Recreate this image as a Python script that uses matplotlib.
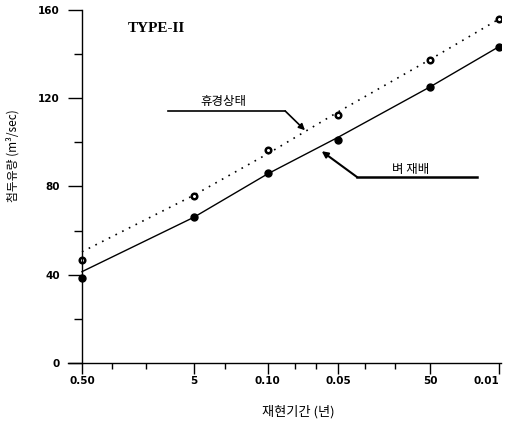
import numpy as np
import matplotlib
matplotlib.use("Agg")
import matplotlib.pyplot as plt

plt.rcParams['font.family'] = ['Noto Sans CJK KR', 'DejaVu Sans']

# return periods (years) and peak discharge (m3/sec)
return_period = [2, 5, 10, 20, 50, 100]
tick_labels = ['0.50', '5', '0.10', '0.05', '50', '0.01']

fallow_obs = [46.7, 75.7, 96.5, 112.4, 137.3, 155.9]     # 휴경상태
fallow_fit = [50.4, 76.0, 94.8, 113.9, 137.6, 155.9]
rice_obs = [38.5, 66.2, 86.2, 101.1, 125.2, 143.4]       # 벼 재배
rice_fit = [41.4, 66.0, 85.7, 102.4, 125.2, 143.4]

minor_periods = [2.5, 3.3, 6.7, 13, 16, 26, 35]


def gumbel(T):
    T = np.asarray(T, dtype=float)
    return -np.log(-np.log(1.0 - 1.0 / T))


u = gumbel(return_period)

fig = plt.figure(figsize=(5.09, 4.28), dpi=100)
ax = fig.add_axes([68 / 509, 65 / 428, 433 / 509, 353 / 428])

ax.plot(u, fallow_fit, color='k', lw=1.2, linestyle=(0, (1, 3.5)))
ax.plot(u, fallow_obs, 'o', ms=4, mfc='white', mec='k', mew=1.8, ls='none')
ax.plot(u, rice_fit, color='k', lw=1.0)
ax.plot(u, rice_obs, 'o', ms=5, color='k', ls='none')

ax.set_xlim(u[0] - 0.142, u[-1] + 0.02)
ax.set_ylim(0, 160)

for s in ['top', 'right']:
    ax.spines[s].set_visible(False)
ax.spines['left'].set_position(('data', u[0]))
ax.spines['left'].set_linewidth(1.0)
ax.spines['bottom'].set_linewidth(1.0)

ax.set_yticks([0, 40, 80, 120, 160])
ax.set_yticks([20, 60, 100, 140], minor=True)
ax.set_xticks(u)
ax.set_xticks(gumbel(minor_periods), minor=True)
ax.set_xticklabels(tick_labels)
ax.tick_params(axis='y', which='major', length=10, width=1, pad=6, labelsize=7.5)
ax.tick_params(axis='y', which='minor', length=6, width=1)
ax.tick_params(axis='x', which='major', length=8, width=1, pad=1.5, labelsize=7.5)
ax.tick_params(axis='x', which='minor', length=4, width=1)
for lab in ax.get_yticklabels() + ax.get_xticklabels():
    lab.set_family('DejaVu Sans')
    lab.set_fontweight('bold')
# keep the last label inside the figure
ax.get_xticklabels()[-1].set_horizontalalignment('right')

# leader labels
ax.plot([1.24, 2.43], [114.2, 114.2], color='k', lw=1.2)
ax.annotate('', xy=(2.63, 105.5), xytext=(2.43, 114.2),
            arrowprops=dict(arrowstyle='-|>', color='k', lw=1.2,
                            mutation_scale=9, shrinkA=0, shrinkB=0))
ax.text(1.80, 118.5, '휴경상태', ha='center', va='center', fontsize=9)

ax.plot([3.158, 4.377], [84.3, 84.3], color='k', lw=1.8)
ax.annotate('', xy=(2.80, 96.0), xytext=(3.158, 84.3),
            arrowprops=dict(arrowstyle='-|>', color='k', lw=1.5,
                            mutation_scale=9, shrinkA=0, shrinkB=0))
ax.text(3.70, 87.9, '벼 재배', ha='center', va='center', fontsize=9)

fig.text(128 / 509, 1 - 28 / 428, 'TYPE-II', ha='left', va='center',
         fontsize=11, fontweight='bold', family='Liberation Serif')
fig.text(298 / 509, 1 - 412 / 428, '재현기간 (년)', ha='center', va='center',
         fontsize=9.5)
fig.text(13 / 509, 1 - 156 / 428, '첨두유량 (m³/sec)', ha='center', va='center',
         rotation=90, fontsize=8.5)

fig.savefig('out.png', dpi=100)
